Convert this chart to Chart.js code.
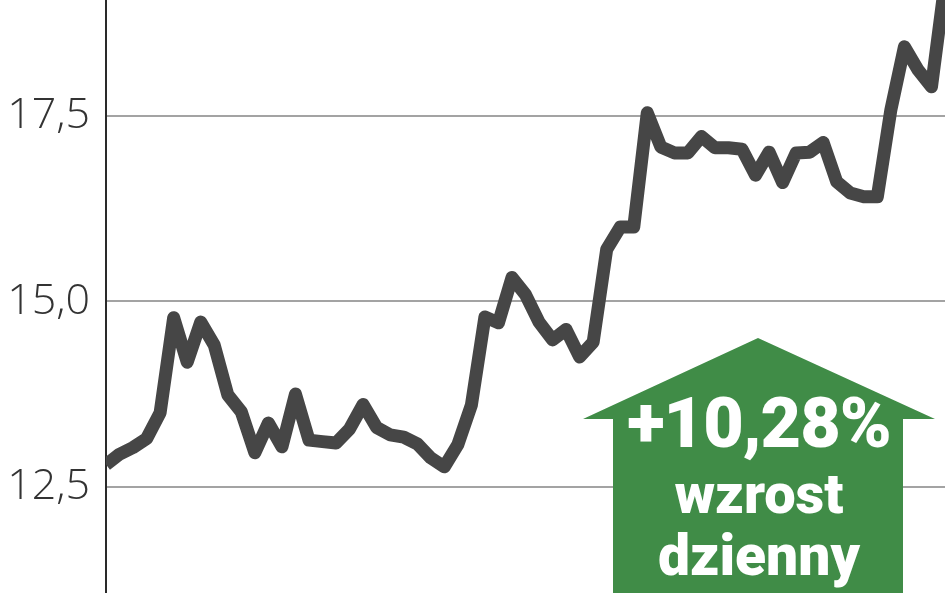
<!DOCTYPE html>
<html>
<head>
<meta charset="utf-8">
<script src="https://cdn.jsdelivr.net/npm/chart.js@4.4.1/dist/chart.umd.min.js"></script>
<style>
  html, body { margin: 0; padding: 0; background: #fff; }
  #wrap { position: relative; width: 948px; height: 593px; overflow: hidden; }
  #badge {
    position: absolute; left: 583px; top: 338px; width: 352px; height: 255px;
    background: #408c47;
    clip-path: polygon(175px 0, 352px 81px, 320px 81px, 320px 255px, 30px 255px, 30px 81px, 0 81px);
  }
  #badge div {
    position: absolute; left: 0; width: 352px; text-align: center; line-height: 1;
    color: #fff; font-family: "Roboto", sans-serif; font-weight: 900;
  }
</style>
</head>
<body>
<div id="wrap">
  <canvas id="priceChart" width="948" height="593"></canvas>
  <div id="badge">
    <div style="top:50px;font-size:70px;letter-spacing:-1px;">+10,28%</div>
    <div style="top:128px;font-size:56px;">wzrost</div>
    <div style="top:189px;font-size:57px;">dzienny</div>
  </div>
</div>
<script>
// daily closing prices
const days = [];
const prices = [
  12.80, 12.94, 13.03, 13.15, 13.50, 14.78, 14.18, 14.72, 14.41, 13.74,
  13.51, 12.96, 13.36, 13.04, 13.75, 13.13, 13.11, 13.09, 13.28, 13.61,
  13.30, 13.20, 13.17, 13.08, 12.89, 12.77, 13.07, 13.60, 14.79, 14.71,
  15.32, 15.09, 14.72, 14.48, 14.62, 14.25, 14.45, 15.70, 16.00, 16.00,
  17.54, 17.08, 17.00, 17.00, 17.22, 17.07, 17.07, 17.05, 16.70, 17.01,
  16.60, 17.00, 17.01, 17.14, 16.61, 16.46, 16.41, 16.41, 17.58, 18.43,
  18.12, 17.89, 19.29
];
for (let i = 0; i < prices.length; i++) days.push(i + 1);

const yTicks = [12.5, 15.0, 17.5];
const yMin = 11.07;
const yMax = 19.06;

const ctx = document.getElementById("priceChart").getContext("2d");
new Chart(ctx, {
  type: "line",
  data: {
    labels: days,
    datasets: [
      {
        data: prices,
        borderColor: "#464646",
        borderWidth: 13,
        borderJoinStyle: "round",
        borderCapStyle: "butt",
        pointRadius: 0,
        tension: 0,
        fill: false,
        clip: { left: 0, right: 0, top: 20, bottom: 0 },
      },
    ],
  },
  options: {
    responsive: false,
    animation: false,
    layout: { autoPadding: false, padding: { left: 0, top: 0, bottom: 0, right: 3 } },
    plugins: {
      legend: { display: false },
      tooltip: { enabled: false },
    },
    scales: {
      x: {
        display: false,
        offset: false,
      },
      y: {
        min: yMin,
        max: yMax,
        afterFit: function (scale) {
          scale.width = 106;
          scale.paddingTop = 0;
          scale.paddingBottom = 0;
        },
        afterBuildTicks: function (scale) {
          scale.ticks = yTicks.map((v) => ({ value: v }));
        },
        grid: {
          color: "#a3a3a3",
          lineWidth: 2,
          drawTicks: false,
        },
        border: {
          display: true,
          color: "#2a2a2a",
          width: 2,
        },
        ticks: {
          padding: 16,
          color: "#333",
          font: { family: "Open Sans", weight: 300, size: 43 },
          callback: function (value) {
            return value.toFixed(1).replace(".", ",");
          },
        },
      },
    },
  },
});
</script>
</body>
</html>
